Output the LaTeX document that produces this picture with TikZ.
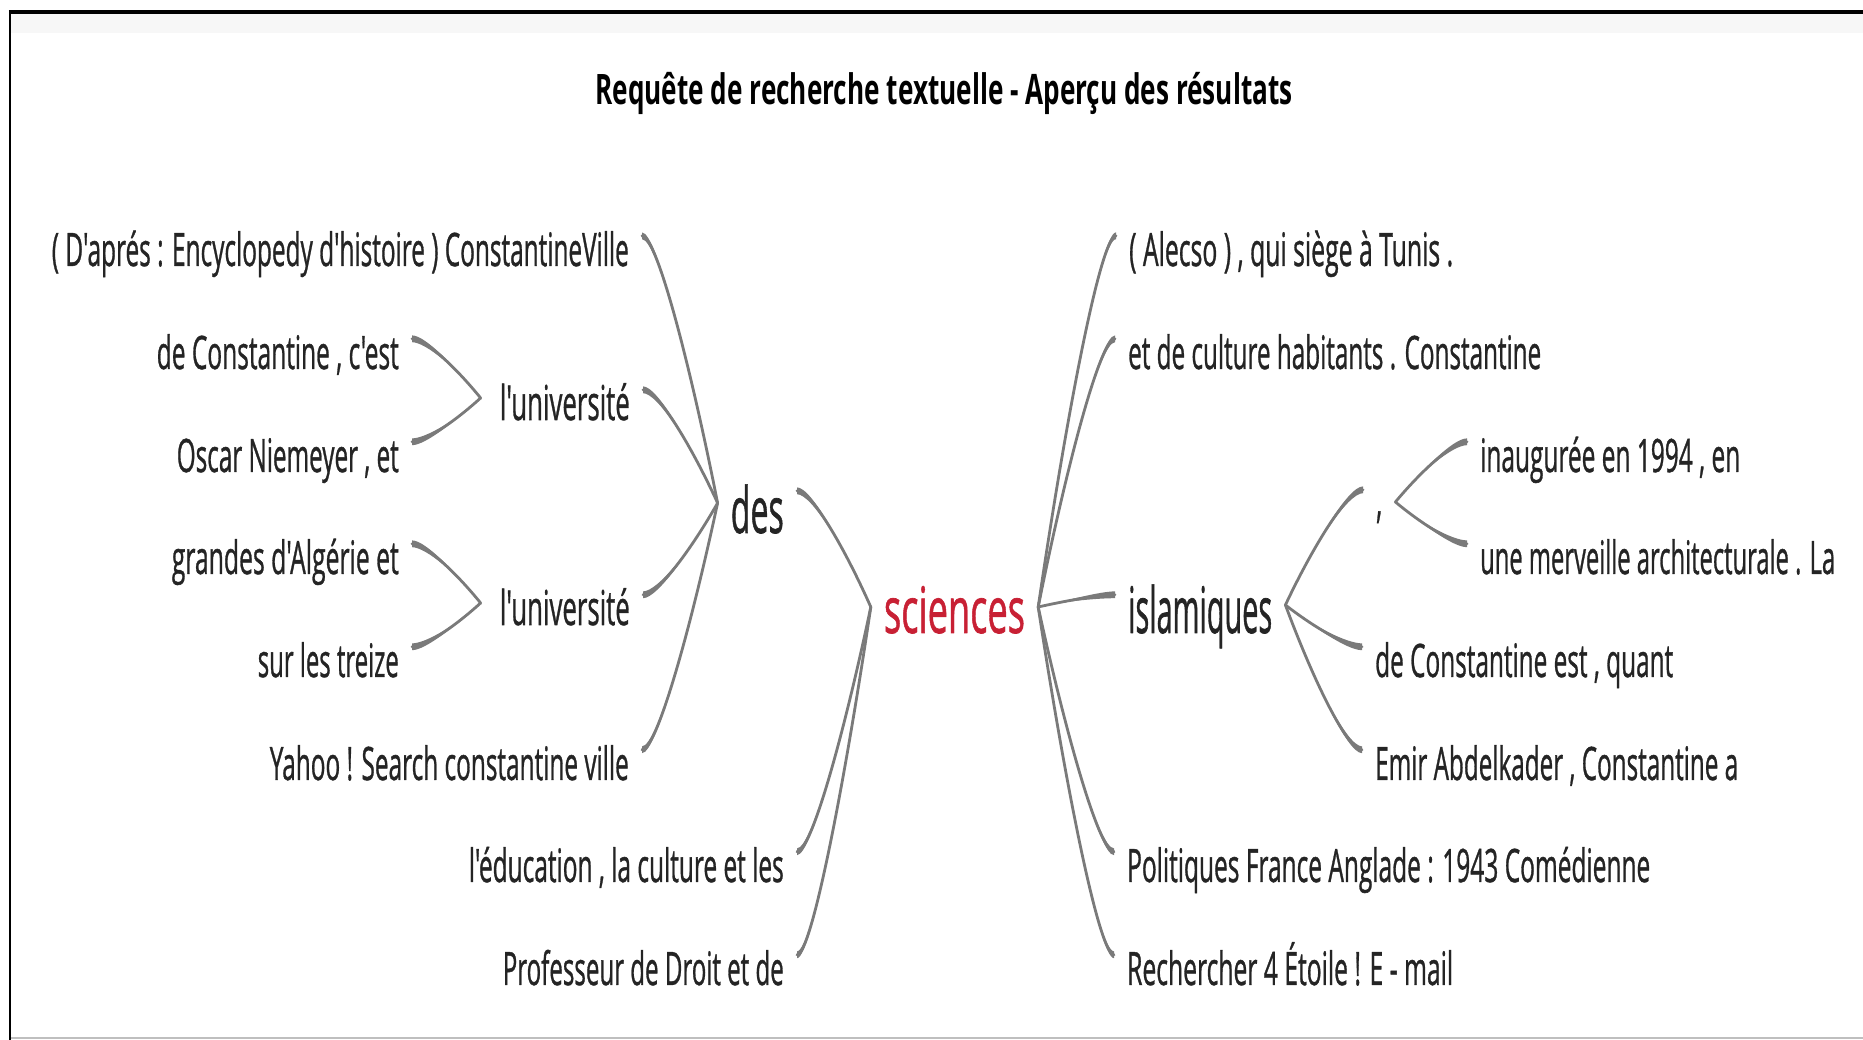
\documentclass[tikz,border=0pt]{standalone}
\usepackage{fontspec}
\setmainfont{Open Sans}
\newfontfamily\bodyfont{Open Sans}[FakeBold=1.1]
\usetikzlibrary{calc}
\definecolor{txt}{RGB}{36,36,36}
\definecolor{lnk}{RGB}{122,122,122}
\definecolor{topic}{RGB}{200,32,52}
\newcommand\fw[2]{\resizebox{#1pt}{\height}{#2}}
% tapered connector: #1 parent junction, #2 child attach point
\newcommand\conn[2]{%
  \fill[lnk] let \p1=(#1), \p2=(#2) in
    (\p1) .. controls ({0.65*\x1+0.35*\x2},{0.5*\y1+0.5*\y2}) and ({0.8*\x2+0.2*\x1},{\y2+3.4pt}) .. ({\x2},{\y2+3.4pt})
    -- ({\x2},{\y2-3.4pt}) .. controls ({0.8*\x2+0.2*\x1},{\y2-3.4pt}) and ({0.65*\x1+0.35*\x2},{0.5*\y1+0.5*\y2}) .. (\p1) -- cycle;
  \draw[lnk, line width=2.8pt, line cap=round] let \p1=(#1), \p2=(#2) in
    (\p1) .. controls ({0.65*\x1+0.35*\x2},{0.5*\y1+0.5*\y2}) and ({0.8*\x2+0.2*\x1},{\y2}) .. (\p2);
}
\begin{document}
\begin{tikzpicture}[x=1pt,y=1pt,
  nbase/.style={inner xsep=13pt, inner ysep=0pt, text depth=0pt, text=txt,
                font=\bodyfont\fontsize{46}{50}\selectfont},
  leafL/.style={nbase, anchor=base east, text height=30pt},
  leafR/.style={nbase, anchor=base west, text height=30pt},
  midL/.style={leafL, font=\bodyfont\fontsize{48}{52}\selectfont},
  midR/.style={leafR, font=\bodyfont\fontsize{48}{52}\selectfont, text height=27pt},
  bigw/.style={nbase, font=\bodyfont\fontsize{64}{68}\selectfont},
  titlestyle/.style={inner sep=0pt, anchor=base, text=black,
                font=\fontsize{42}{46}\selectfont\bfseries}
]
\useasboundingbox (0,0) rectangle (1863,1040);
\fill[white] (0,0) rectangle (1863,1040);
% frame
\fill[black!3] (11,1007) rectangle (1863,1026);
\draw[black!25, line width=1.2pt] (10,2) -- (1863,2);
\draw[black, line width=2.5pt] (10,0) -- (10,1028);
\draw[black, line width=3.5pt] (8.75,1028) -- (1863,1028);

% title
\node[titlestyle] (title) at (944,935) {\fw{697}{Requête de recherche textuelle - Aperçu des résultats}};

% central topic
\node[bigw, anchor=base, text height=30pt, text=topic] (sci) at (954.5,407) {\fw{141}{sciences}};

% left branch
\node[bigw, anchor=base east, text height=42pt] (des) at (797,507) {\fw{53}{des}};
\node[leafL] (cv)  at (642,774) {\fw{577}{( D'aprés : Encyclopedy d'histoire ) ConstantineVille}};
\node[midL]  (lu1) at (643,620) {\fw{130}{l'université}};
\node[leafL] (deC) at (412,671) {\fw{242}{de Constantine , c'est}};
\node[leafL] (osc) at (412,568) {\fw{222}{Oscar Niemeyer , et}};
\node[midL]  (lu2) at (643,415) {\fw{130}{l'université}};
\node[leafL] (gra) at (412,466) {\fw{227}{grandes d'Algérie et}};
\node[leafL] (sur) at (412,363) {\fw{141}{sur les treize}};
\node[leafL] (yah) at (642,260) {\fw{359}{Yahoo ! Search constantine ville}};
\node[leafL] (edu) at (797,158) {\fw{315}{l'éducation , la culture et les}};
\node[leafL] (pro) at (797,55)  {\fw{281}{Professeur de Droit et de}};

% right branch
\node[leafR] (ale) at (1116,774) {\fw{324}{( Alecso ) , qui siège à Tunis .}};
\node[leafR] (etd) at (1115,671) {\fw{413}{et de culture habitants . Constantine}};
\node[bigw, anchor=base west, text height=38pt] (isl) at (1115,407) {\fw{144}{islamiques}};
\node[midR]  (com) at (1363,523) {\fw{6}{,}};
\node[leafR] (ina) at (1467,568) {\fw{260}{inaugurée en 1994 , en}};
\node[leafR] (mer) at (1467,466) {\fw{355}{une merveille architecturale . La}};
\node[leafR] (dce) at (1362,363) {\fw{298}{de Constantine est , quant}};
\node[leafR] (emi) at (1362,260) {\fw{363}{Emir Abdelkader , Constantine a}};
\node[leafR] (pol) at (1114,158) {\fw{523}{Politiques France Anglade : 1943 Comédienne}};
\node[leafR] (rec) at (1114,55)  {\fw{326}{Rechercher 4 Étoile ! E - mail}};

% junction points of the parents
\coordinate (sciL) at ([yshift=26pt]sci.base west);
\coordinate (sciR) at ([yshift=26pt]sci.base east);
\coordinate (desJ) at ([yshift=30pt]des.base west);
\coordinate (lu1J) at ([xshift=-6pt,yshift=22pt]lu1.base west);
\coordinate (lu2J) at ([xshift=-6pt,yshift=22pt]lu2.base west);
\coordinate (islJ) at ([yshift=28pt]isl.base east);
\coordinate (comJ) at ([yshift=15pt]com.base east);

% connectors
\conn{sciL}{des.north east}
\conn{sciL}{edu.north east}
\conn{sciL}{pro.north east}
\conn{desJ}{cv.north east}
\conn{desJ}{lu1.north east}
\conn{desJ}{lu2.north east}
\conn{desJ}{yah.north east}
\conn{lu1J}{deC.north east}
\conn{lu1J}{osc.north east}
\conn{lu2J}{gra.north east}
\conn{lu2J}{sur.north east}
\conn{sciR}{ale.north west}
\conn{sciR}{etd.north west}
\conn{sciR}{isl.north west}
\conn{sciR}{pol.north west}
\conn{sciR}{rec.north west}
\conn{islJ}{com.north west}
\conn{islJ}{dce.north west}
\conn{islJ}{emi.north west}
\conn{comJ}{ina.north west}
\conn{comJ}{mer.north west}
\end{tikzpicture}
\end{document}
